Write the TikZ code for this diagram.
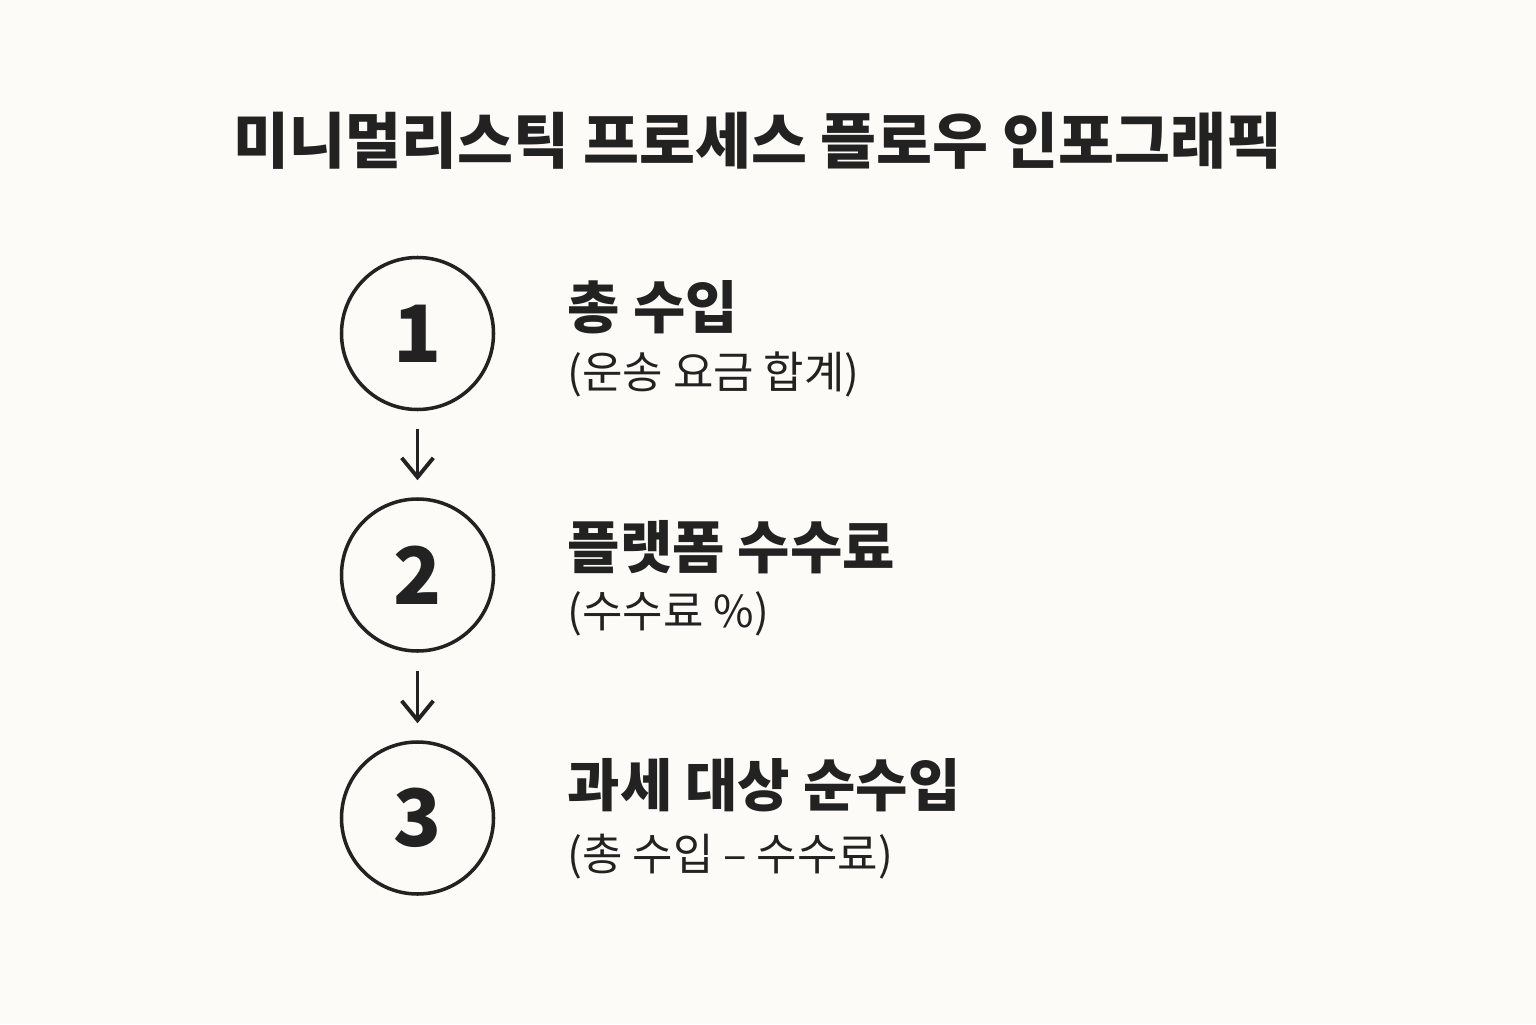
\documentclass[tikz,border=0pt]{standalone}
\usepackage{fontspec}
\setmainfont{Noto Sans CJK KR}
\usepackage{tikz}
\usetikzlibrary{arrows.meta, positioning}
\definecolor{ink}{HTML}{222222}
\definecolor{paper}{HTML}{FCFBF7}

\begin{document}
\begin{tikzpicture}
			\tikzstyle{every node} = [text = ink]
			\tikzstyle{stepcircle} = [circle, draw = ink, line width = 1pt, minimum size = 1.52cm, inner sep = 0pt, font = \bfseries\fontsize{22.5}{26}\selectfont]
			\tikzstyle{headline} = [anchor = west, inner sep = 0pt, font = \bfseries\fontsize{16.2}{19}\selectfont]
			\tikzstyle{subline} = [anchor = west, inner sep = 0pt, font = \fontsize{12.5}{15}\selectfont]
			\tikzstyle{flow} = [draw = ink, line width = 1.1pt, -{Straight Barb[length = 5.5pt, width = 9pt]}, shorten < = 0.18cm, shorten > = 0.17cm]
				\fill[paper] (0,0) rectangle (15.36,10.24);
				\useasboundingbox (0,0) rectangle (15.36,10.24);
				\node[font = \bfseries\fontsize{17.3}{20}\selectfont] (title) at (7.58,8.83)
					{미니멀리스틱 프로세스 플로우 인포그래픽};
				\node[stepcircle] (one) at (4.175,6.905) {1};
				\node[stepcircle] (two) at (4.175,4.49) {2};
				\node[stepcircle] (three) at (4.175,2.06) {3};
				\node[headline] (onehead) at (5.67,7.17) {총 수입};
				\node[subline] (onesub) at (5.67,6.50) {(운송 요금 합계)};
				\node[headline] (twohead) at (5.67,4.77) {플랫폼 수수료};
				\node[subline] (twosub) at (5.67,4.10) {(수수료 \%)};
				\node[headline] (threehead) at (5.67,2.39) {과세 대상 순수입};
				\node[subline] (threesub) at (5.67,1.67) {(총 수입 – 수수료)};
				\path[flow] (one) -- (two);
				\path[flow] (two) -- (three);
\end{tikzpicture}
\end{document}
